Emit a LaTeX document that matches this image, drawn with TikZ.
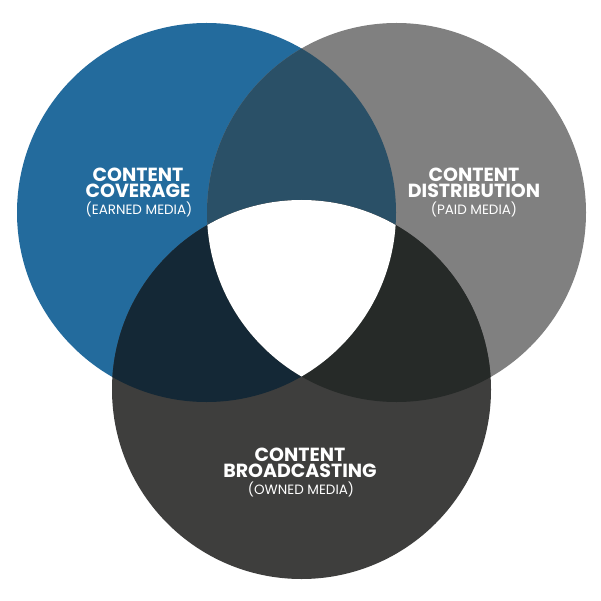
\documentclass[tikz,border=0pt]{standalone}
\usepackage{fontspec}
\setmainfont{Poppins}
\definecolor{cblue}{HTML}{236B9D}
\definecolor{cgray}{HTML}{808080}
\definecolor{cdark}{HTML}{3E3E3D}
\definecolor{cbg}{HTML}{2A5067}
\definecolor{cbd}{HTML}{142836}
\definecolor{cgd}{HTML}{262A28}
\tikzset{
  ttl/.style={anchor=base,inner sep=0pt,align=center,text=white,font=\fontsize{19}{16}\selectfont\bfseries},
  sub/.style={anchor=base,inner sep=0pt,text height=9.5pt,text depth=0pt,text=white,font=\fontsize{13.5}{13.5}\selectfont}
}
\begin{document}
\begin{tikzpicture}[x=1pt,y=-1pt]
\useasboundingbox (0,0) rectangle (600,601);
\fill[white] (0,0) rectangle (600,601);
\def\A{(206.5,212.5) circle (189.5)}
\def\B{(396.5,212.5) circle (189.5)}
\def\C{(301.5,389.5) circle (189.5)}
\fill[cblue] \A;
\fill[cgray] \B;
\fill[cdark] \C;
\begin{scope}\clip \A; \fill[cbg] \B; \end{scope}
\begin{scope}\clip \A; \fill[cbd] \C; \end{scope}
\begin{scope}\clip \B; \fill[cgd] \C; \end{scope}
\begin{scope}\clip \A; \clip \B; \fill[white] \C; \end{scope}
\node[ttl] (a1) at (138,197.5) {CONTENT\\COVERAGE};
\node[sub] (a3) at (139,214.5) {(EARNED MEDIA)};
\node[ttl] (b1) at (474,197.5) {CONTENT\\DISTRIBUTION};
\node[sub] (b3) at (474,214.5) {(PAID MEDIA)};
\node[ttl] (c1) at (300,477) {CONTENT\\BROADCASTING};
\node[sub] (c3) at (301,494.5) {(OWNED MEDIA)};
\end{tikzpicture}
\end{document}
